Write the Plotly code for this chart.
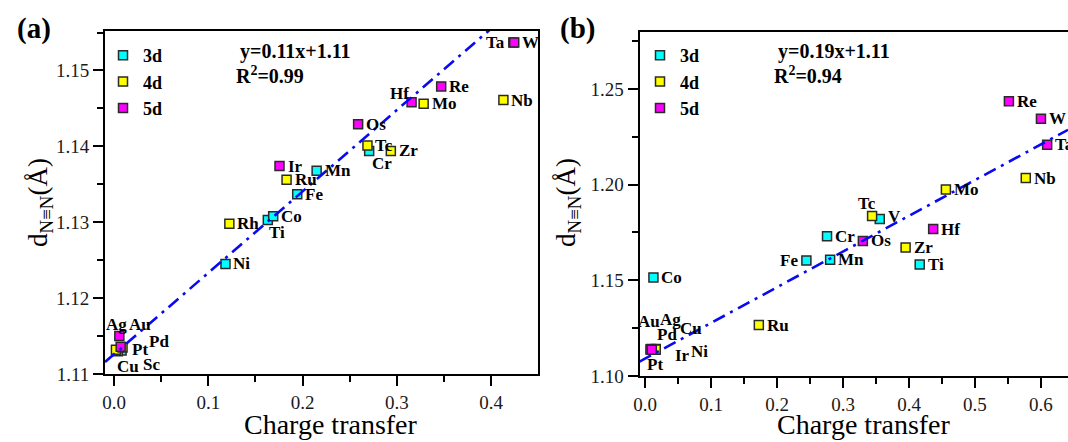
import plotly.graph_objects as go

W, H = 1068, 442

# ---------------- data : panel (a) ----------------
a_3d_names = ["Sc", "Ti", "Cr", "Mn", "Fe", "Co", "Ni", "Cu"]
a_3d_x = [0.008, 0.1631, 0.2706, 0.2149, 0.1943, 0.1688, 0.1182, 0.004]
a_3d_y = [1.1131, 1.1303, 1.1394, 1.1368, 1.1337, 1.1308, 1.1245, 1.1130]

a_4d_names = ["Ag", "Pd", "Rh", "Ru", "Tc", "Zr", "Mo", "Nb"]
a_4d_x = [0.002, 0.009, 0.1223, 0.183, 0.2688, 0.2936, 0.3284, 0.413]
a_4d_y = [1.1132, 1.1135, 1.1298, 1.1356, 1.1401, 1.1394, 1.1456, 1.1461]

a_5d_names = ["Au", "Pt", "Ir", "Os", "Hf", "Re", "Ta", "W"]
a_5d_x = [0.0056, 0.007, 0.1755, 0.2589, 0.3156, 0.347, 0.4235, 0.4245]
a_5d_y = [1.1150, 1.1136, 1.1374, 1.1429, 1.1458, 1.1479, 1.1537, 1.1537]

a_fit = {"slope": 0.1073, "intercept": 1.1126}
a_eq = ["y=0.11x+1.11", "R<sup>2</sup>=0.99"]
a_xticks = [0.0, 0.1, 0.2, 0.3, 0.4]
a_yticks = [1.11, 1.12, 1.13, 1.14, 1.15]

# ---------------- data : panel (b) ----------------
b_3d_names = ["Co", "Cu", "Ni", "Fe", "Mn", "Cr", "V", "Ti"]
b_3d_x = [0.0125, 0.016, 0.015, 0.2444, 0.2804, 0.2757, 0.3556, 0.4162]
b_3d_y = [1.1515, 1.1141, 1.1137, 1.1603, 1.1607, 1.1730, 1.1820, 1.1582]

b_4d_names = ["Ag", "Pd", "Ru", "Tc", "Zr", "Mo", "Nb"]
b_4d_x = [0.015, 0.016, 0.1723, 0.344, 0.3948, 0.4559, 0.577]
b_4d_y = [1.1140, 1.1139, 1.1266, 1.1836, 1.1671, 1.1975, 1.2034]

b_5d_names = ["Au", "Pt", "Ir", "Os", "Hf", "Re", "W", "Ta"]
b_5d_x = [0.009, 0.008, 0.010, 0.330, 0.4366, 0.5514, 0.600, 0.6094]
b_5d_y = [1.1141, 1.1138, 1.1137, 1.1706, 1.1768, 1.2436, 1.2344, 1.2208]

b_fit = {"slope": 0.1865, "intercept": 1.1091}
b_eq = ["y=0.19x+1.11", "R<sup>2</sup>=0.94"]
b_xticks = [0.0, 0.1, 0.2, 0.3, 0.4, 0.5, 0.6]
b_yticks = [1.10, 1.15, 1.20, 1.25]

series_names = ["3d", "4d", "5d"]
series_colors = ["#00FFFF", "#FFFF00", "#FF00FF"]

# ---------------- layout / style ----------------
SERIF = "Liberation Serif, Times New Roman, serif"
a_xrange = [-0.0096, 0.4497]
a_yrange = [1.11, 1.1552]
b_xrange = [-0.0086, 0.641]
b_yrange = [1.10, 1.28]

def px_x(p):
    return p / W

def px_y(p):
    return 1 - p / H

# label placement: name -> (mode, dx, dy)  (pixels, dy downward)
a_labels = {
    "Ni": ("R", 0, 0), "Rh": ("R", 0, 0), "Co": ("R", 0, 0), "Fe": ("R", 0, 0),
    "Ru": ("R", 0, 0), "Ir": ("R", 0, 0), "Mn": ("R", 0, 0), "Os": ("R", 0, 0),
    "Tc": ("R", 0, 0), "Zr": ("R", 0, 0), "Mo": ("R", 0, 0), "Re": ("R", 0, 0),
    "Nb": ("R", 0, 0), "W": ("R", 0, 0), "Ta": ("L", 0, 0),
    "Ti": ("C", 9, 13), "Cr": ("C", 13, 13), "Hf": ("C", -12, -9),
    "Ag": ("C", 1, -25), "Au": ("C", 21, -12), "Pd": ("C", 36, -6),
    "Pt": ("C", 19, 3), "Cu": ("C", 10, 15), "Sc": ("C", 30, 14),
}
b_labels = {
    "Co": ("R", 0, 0), "Ru": ("R", 0, 0), "Mn": ("R", 0, 0), "Cr": ("R", 0, 0),
    "Os": ("R", 0, 0), "Zr": ("R", 0, 0), "Ti": ("R", 0, 0), "Hf": ("R", 0, 0),
    "Mo": ("R", 0, 0), "Nb": ("R", 0, 0), "Re": ("R", 0, 0), "W": ("R", 0, 0),
    "Ta": ("R", 0, 0), "V": ("R", 0, -3), "Fe": ("L", 0, 0),
    "Tc": ("C", -5, -13),
    "Pt": ("C", 5, 15), "Au": ("C", -2, -28), "Ir": ("C", 31, 6),
    "Ag": ("C", 15, -30), "Pd": ("C", 11, -15), "Cu": ("C", 35, -21),
    "Ni": ("C", 44, 2),
}

fig = go.Figure()
annotations = []

def add_panel(xs, ys, names, xref, yref, legend, labels):
    for i in range(3):
        fig.add_trace(go.Scatter(
            x=xs[i], y=ys[i], mode="markers", name="<b>" + series_names[i] + "</b>",
            xaxis=xref, yaxis=yref, legend=legend,
            marker=dict(symbol="square", size=9, color=series_colors[i],
                        line=dict(color="#2a2a2a", width=1.5)),
            cliponaxis=False, hoverinfo="skip"))
        for x, y, n in zip(xs[i], ys[i], names[i]):
            mode, dx, dy = labels.get(n, ("R", 0, 0))
            if mode == "R":
                xa, xs_, ys_ = "left", 6 + dx, -dy
            elif mode == "L":
                xa, xs_, ys_ = "right", -6 + dx, -dy
            else:
                xa, xs_, ys_ = "center", dx, -dy
            annotations.append(dict(
                x=x, y=y, xref=xref, yref=yref, text="<b>" + n + "</b>", showarrow=False,
                xanchor=xa, yanchor="middle", xshift=xs_, yshift=ys_,
                font=dict(family=SERIF, size=17, color="black")))

add_panel([a_3d_x, a_4d_x, a_5d_x], [a_3d_y, a_4d_y, a_5d_y],
          [a_3d_names, a_4d_names, a_5d_names], "x", "y", "legend", a_labels)
add_panel([b_3d_x, b_4d_x, b_5d_x], [b_3d_y, b_4d_y, b_5d_y],
          [b_3d_names, b_4d_names, b_5d_names], "x2", "y2", "legend2", b_labels)

# fit lines
for fit, xr, xref, yref in [(a_fit, a_xrange, "x", "y"), (b_fit, b_xrange, "x2", "y2")]:
    lx = [xr[0], xr[1]]
    ly = [fit["slope"] * v + fit["intercept"] for v in lx]
    fig.add_trace(go.Scatter(x=lx, y=ly, mode="lines", xaxis=xref, yaxis=yref,
                             showlegend=False, hoverinfo="skip",
                             line=dict(color="#0a0af0", width=2.6,
                                       dash="13px,6px,3px,6px")))

axis_common = dict(showline=True, linecolor="black", linewidth=2, ticks="outside",
                   ticklen=10, tickwidth=2, tickcolor="black", showgrid=False,
                   zeroline=False, automargin=False,
                   tickfont=dict(family=SERIF, size=19, color="#1a1a1a"))

fig.update_layout(
    width=W, height=H, margin=dict(l=0, r=0, t=0, b=0),
    paper_bgcolor="white", plot_bgcolor="white",
    xaxis=dict(domain=[px_x(105), px_x(538)], range=a_xrange, anchor="y",
               tickvals=a_xticks, tickformat=".1f", mirror=True,
               minor=dict(dtick=0.05, tick0=0, ticks="outside", ticklen=6,
                          tickwidth=2, tickcolor="black"), **axis_common),
    yaxis=dict(domain=[px_y(374), px_y(31)], range=a_yrange, anchor="x",
               tickvals=a_yticks, tickformat=".2f", mirror=True,
               minor=dict(dtick=0.005, tick0=1.11, ticks="outside", ticklen=6,
                          tickwidth=2, tickcolor="black"), **axis_common),
    xaxis2=dict(domain=[px_x(639.5), 1.0], range=b_xrange, anchor="y2",
                tickvals=b_xticks, tickformat=".1f", mirror=True,
                minor=dict(dtick=0.05, tick0=0, ticks="outside", ticklen=6,
                           tickwidth=2, tickcolor="black"), **axis_common),
    yaxis2=dict(domain=[px_y(376), px_y(31.5)], range=b_yrange, anchor="x2",
                tickvals=b_yticks, tickformat=".2f", mirror=False,
                minor=dict(dtick=0.025, tick0=1.10, ticks="outside", ticklen=6,
                           tickwidth=2, tickcolor="black"), **axis_common),
    legend=dict(x=px_x(103), y=px_y(37), xanchor="left", yanchor="top",
                bgcolor="rgba(0,0,0,0)", font=dict(family=SERIF, size=18, color="black"),
                itemsizing="trace", tracegroupgap=0),
    legend2=dict(x=px_x(640), y=px_y(37), xanchor="left", yanchor="top",
                 bgcolor="rgba(0,0,0,0)", font=dict(family=SERIF, size=18, color="black"),
                 itemsizing="trace", tracegroupgap=0),
    showlegend=True,
)

# equations
for eq, x0 in [(a_eq, 238), (b_eq, 776)]:
    annotations.append(dict(x=px_x(x0), y=px_y(51), xref="paper", yref="paper",
                            text="<b>" + eq[0] + "</b>", showarrow=False,
                            xanchor="left", yanchor="middle",
                            font=dict(family=SERIF, size=20, color="black")))
    annotations.append(dict(x=px_x(x0 - 4), y=px_y(75), xref="paper", yref="paper",
                            text="<b>" + eq[1] + "</b>", showarrow=False,
                            xanchor="left", yanchor="middle",
                            font=dict(family=SERIF, size=20, color="black")))

# panel tags
for tag, cx in [("(a)", 34), ("(b)", 577)]:
    annotations.append(dict(x=px_x(cx), y=px_y(28), xref="paper", yref="paper",
                            text="<b>" + tag + "</b>", showarrow=False,
                            xanchor="center", yanchor="middle",
                            font=dict(family=SERIF, size=29, color="black")))

# axis titles
for cx in [331, 864]:
    annotations.append(dict(x=px_x(cx), y=px_y(424), xref="paper", yref="paper",
                            text="Charge transfer", showarrow=False,
                            xanchor="center", yanchor="middle",
                            font=dict(family=SERIF, size=28, color="black")))
for cx in [40, 568]:
    annotations.append(dict(x=px_x(cx), y=px_y(203), xref="paper", yref="paper",
                            text="d<sub>N≡N</sub>(Å)", showarrow=False, textangle=-90,
                            xanchor="center", yanchor="middle",
                            font=dict(family=SERIF, size=27, color="black")))

fig.update_layout(annotations=annotations)
fig.write_html("out.html")
